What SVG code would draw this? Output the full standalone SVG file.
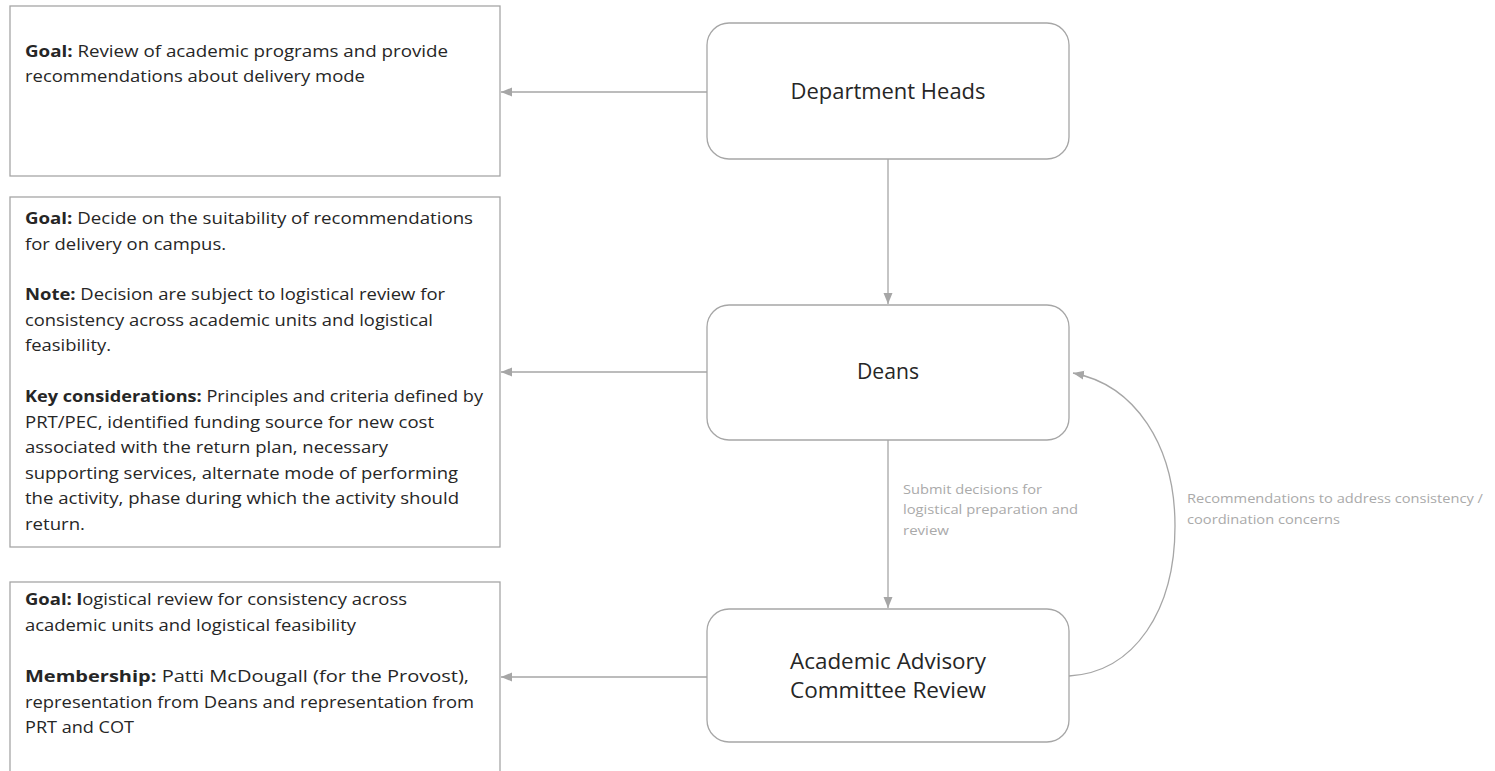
<svg xmlns="http://www.w3.org/2000/svg" width="1495" height="771" viewBox="0 0 1495 771">
<style>
.box{fill:#fff;stroke:#a6a6a6;stroke-width:1.3}
.node{fill:#fff;stroke:#a6a6a6;stroke-width:1.3}
.t{font-family:"Open Sans","Liberation Sans",sans-serif;font-size:16px;fill:#262626}
.b{font-weight:bold}
.nt{font-family:"Open Sans","Liberation Sans",sans-serif;font-size:21px;fill:#262626;text-anchor:middle}
.lbl{font-family:"Open Sans","Liberation Sans",sans-serif;font-size:12.5px;fill:#aaaaaa}
.c{fill:none;stroke:#a6a6a6;stroke-width:1.3}
</style>
<defs>
<marker id="ah" markerUnits="userSpaceOnUse" markerWidth="12" markerHeight="10" refX="11" refY="5" orient="auto">
<path d="M0,0.5 L11,5 L0,9.5 Z" fill="#a6a6a6"/>
</marker>
</defs>
<rect width="1495" height="771" fill="#fff"/>

<g id="box-dept-goal">
<rect class="box" x="10" y="6" width="490" height="170"/>
<text class="t" x="25" y="57" textLength="423" lengthAdjust="spacingAndGlyphs"><tspan class="b">Goal:</tspan> Review of academic programs and provide</text>
<text class="t" x="25" y="82" textLength="340" lengthAdjust="spacingAndGlyphs">recommendations about delivery mode</text>
</g>

<g id="box-deans-goal">
<rect class="box" x="10" y="197" width="490" height="350"/>
<text class="t" x="25" y="224" textLength="448" lengthAdjust="spacingAndGlyphs"><tspan class="b">Goal:</tspan>  Decide on the suitability of recommendations</text>
<text class="t" x="25" y="249.5" textLength="201" lengthAdjust="spacingAndGlyphs">for delivery on campus.</text>
<text class="t" x="25" y="300" textLength="420" lengthAdjust="spacingAndGlyphs"><tspan class="b">Note:</tspan> Decision are subject to logistical review for</text>
<text class="t" x="25" y="325.5" textLength="408" lengthAdjust="spacingAndGlyphs">consistency across academic units and logistical</text>
<text class="t" x="25" y="351" textLength="86" lengthAdjust="spacingAndGlyphs">feasibility.</text>
<text class="t" x="25" y="402" textLength="458" lengthAdjust="spacingAndGlyphs"><tspan class="b">Key considerations:</tspan> Principles and criteria defined by</text>
<text class="t" x="25" y="427.5" textLength="409" lengthAdjust="spacingAndGlyphs">PRT/PEC, identified funding source for new cost</text>
<text class="t" x="25" y="453" textLength="363" lengthAdjust="spacingAndGlyphs">associated with the return plan, necessary</text>
<text class="t" x="25" y="478.5" textLength="433" lengthAdjust="spacingAndGlyphs">supporting services, alternate mode of performing</text>
<text class="t" x="25" y="504" textLength="434" lengthAdjust="spacingAndGlyphs">the activity, phase during which the activity should</text>
<text class="t" x="25" y="529.5" textLength="60" lengthAdjust="spacingAndGlyphs">return.</text>
</g>

<g id="box-aac-goal">
<rect class="box" x="10" y="582" width="490" height="220"/>
<text class="t" x="25" y="605" textLength="382" lengthAdjust="spacingAndGlyphs"><tspan class="b">Goal: l</tspan>ogistical review for consistency across</text>
<text class="t" x="25" y="630.5" textLength="331" lengthAdjust="spacingAndGlyphs">academic units and logistical feasibility</text>
<text class="t" x="25" y="682" textLength="444" lengthAdjust="spacingAndGlyphs"><tspan class="b">Membership:</tspan> Patti McDougall (for the Provost),</text>
<text class="t" x="25" y="707.5" textLength="449" lengthAdjust="spacingAndGlyphs">representation from Deans and representation from</text>
<text class="t" x="25" y="733" textLength="109" lengthAdjust="spacingAndGlyphs">PRT and COT</text>
</g>

<g id="node-dept-heads">
<rect class="node" x="707" y="23" width="362" height="136" rx="22" ry="22"/>
<text class="nt" x="888" y="99" textLength="195" lengthAdjust="spacingAndGlyphs">Department Heads</text>
</g>

<g id="node-deans">
<rect class="node" x="707" y="305" width="362" height="135" rx="22" ry="22"/>
<text class="nt" x="888" y="378.5" textLength="62" lengthAdjust="spacingAndGlyphs">Deans</text>
</g>

<g id="node-aac">
<rect class="node" x="707" y="609" width="362" height="133" rx="22" ry="22"/>
<text class="nt" x="888" y="669" textLength="196" lengthAdjust="spacingAndGlyphs">Academic Advisory</text>
<text class="nt" x="888" y="698" textLength="196" lengthAdjust="spacingAndGlyphs">Committee Review</text>
</g>

<g id="connectors">
<line class="c" x1="707" y1="92" x2="501" y2="92" marker-end="url(#ah)"/>
<line class="c" x1="707" y1="372" x2="501" y2="372" marker-end="url(#ah)"/>
<line class="c" x1="707" y1="677" x2="501" y2="677" marker-end="url(#ah)"/>
<line class="c" x1="888" y1="159" x2="888" y2="304" marker-end="url(#ah)"/>
<line class="c" x1="888" y1="440" x2="888" y2="608" marker-end="url(#ah)"/>
<path class="c" d="M1069,676 C1135,672 1175,610 1175,526 C1175,445 1135,385 1073,373" marker-end="url(#ah)"/>
<text class="lbl" x="903" y="493.5" textLength="139" lengthAdjust="spacingAndGlyphs">Submit decisions for</text>
<text class="lbl" x="903" y="514" textLength="175" lengthAdjust="spacingAndGlyphs">logistical preparation and</text>
<text class="lbl" x="903" y="534.5" textLength="46" lengthAdjust="spacingAndGlyphs">review</text>
<text class="lbl" x="1187" y="502.5" textLength="296" lengthAdjust="spacingAndGlyphs">Recommendations to address consistency /</text>
<text class="lbl" x="1187" y="523.5" textLength="153" lengthAdjust="spacingAndGlyphs">coordination concerns</text>
</g>
</svg>
